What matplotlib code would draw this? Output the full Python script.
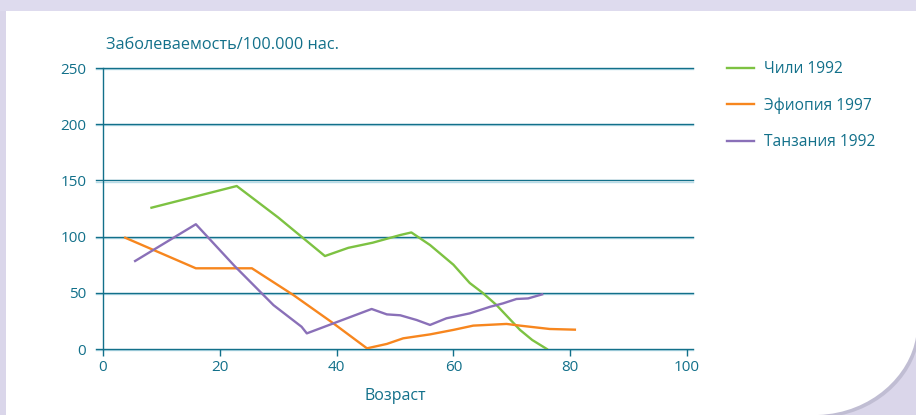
import matplotlib
matplotlib.use("Agg")
import matplotlib.pyplot as plt
from matplotlib.patches import PathPatch, Rectangle
from matplotlib.path import Path
import matplotlib.patheffects as pe

plt.rcParams['font.family'] = ['Open Sans', 'DejaVu Sans']

chile_x = [8.3, 22.9, 30, 38, 42, 46.2, 50.9, 52.8, 56, 60, 62.8, 65, 67.4, 71.4, 73.5, 76]
chile_y = [125.7, 145, 117, 82.7, 90, 94.6, 101.4, 103.7, 92.5, 75, 58.7, 50, 39, 17, 8, 0]

eth_x = [3.8, 15.9, 25.5, 32.6, 39.4, 45.2, 48.6, 51.4, 56, 60, 63.4, 69.1, 71.4, 76.5, 80.8]
eth_y = [99, 71.8, 71.8, 48, 23, 0.6, 4.5, 9.5, 13, 17, 20.8, 22.3, 20.8, 17.8, 17.2]

tan_x = [5.5, 15.9, 22.5, 29.2, 34, 34.9, 46, 48.6, 50.9, 53.7, 56, 58.8, 62.8, 66.3, 68.5, 70.8, 72.8, 75.2]
tan_y = [78.3, 111, 74, 39, 19.8, 13.9, 35.6, 30.8, 30, 25.8, 21.4, 27.3, 31.7, 37.6, 40.6, 44.5, 45, 48.6]

series_names = ['Чили 1992', 'Эфиопия 1997', 'Танзания 1992']
series_colors = ['#7dc242', '#f7861e', '#8a70b8']

x_ticks = [0, 20, 40, 60, 80, 100]
y_ticks = [0, 50, 100, 150, 200, 250]

TEAL = '#12708a'
W, H = 916, 415
fig = plt.figure(figsize=(W / 100, H / 100), dpi=100, facecolor='#dad6ea')

# white page with curled bottom-right corner
verts = [(6, 0), (6, H - 11), (W, H - 11), (W, 78),
         (910, 40), (872, 2), (818, 0), (6, 0)]
codes = [Path.MOVETO, Path.LINETO, Path.LINETO, Path.LINETO,
         Path.CURVE4, Path.CURVE4, Path.CURVE4, Path.CLOSEPOLY]
bg = fig.add_axes([0, 0, 1, 1])
bg.set_xlim(0, W)
bg.set_ylim(0, H)
bg.axis('off')
bg.add_patch(Rectangle((0, H - 11), W, 11, color='#dedbee', lw=0))
bg.add_patch(PathPatch(Path(verts, codes), facecolor='white', edgecolor='none',
                       path_effects=[pe.SimplePatchShadow(offset=(2, -2), shadow_rgbFace='#b0adc4', alpha=0.6), pe.Normal()]))

ax = fig.add_axes([103 / W, 1 - 349 / H, (687 - 103) / W, (349 - 68) / H])
ax.set_facecolor('none')
ax.set_xlim(0, 100)
ax.set_ylim(0, 250)

shadow = [pe.SimpleLineShadow(offset=(0, -0.8), shadow_color='#b8dce8', alpha=1), pe.Normal()]
for yv in y_ticks:
    ax.plot([-1.2, 101], [yv, yv], color=TEAL, lw=1.0, clip_on=False, zorder=1,
            path_effects=shadow)

for xs, ys, c, n in zip([chile_x, eth_x, tan_x], [chile_y, eth_y, tan_y], series_colors, series_names):
    ax.plot(xs, ys, color=c, lw=1.7, label=n, zorder=3, solid_joinstyle='round')

for s in ['top', 'right', 'bottom']:
    ax.spines[s].set_visible(False)
ax.spines['left'].set_color(TEAL)
ax.spines['left'].set_linewidth(1.0)

ax.set_xticks(x_ticks)
ax.set_yticks(y_ticks)
ax.tick_params(axis='x', colors=TEAL, length=5, width=1.0, labelsize=11, pad=3)
ax.tick_params(axis='y', length=0, labelsize=11, labelcolor=TEAL, pad=12)
ax.tick_params(axis='x', labelcolor=TEAL)

ax.set_xlabel('Возраст', color=TEAL, fontsize=11.5, labelpad=9)
fig.text(106 / W, 1 - 45 / H, 'Заболеваемость/100.000 нас.', color=TEAL, fontsize=11.7,
         va='center', ha='left')

leg = ax.legend(loc='upper left', bbox_to_anchor=(713 / W, 1 - 47 / H), bbox_transform=fig.transFigure,
                frameon=False, fontsize=11.2, labelspacing=1.3, handlelength=1.75, handletextpad=0.6)
for t in leg.get_texts():
    t.set_color(TEAL)

fig.savefig('out.png', dpi=100, facecolor=fig.get_facecolor())
